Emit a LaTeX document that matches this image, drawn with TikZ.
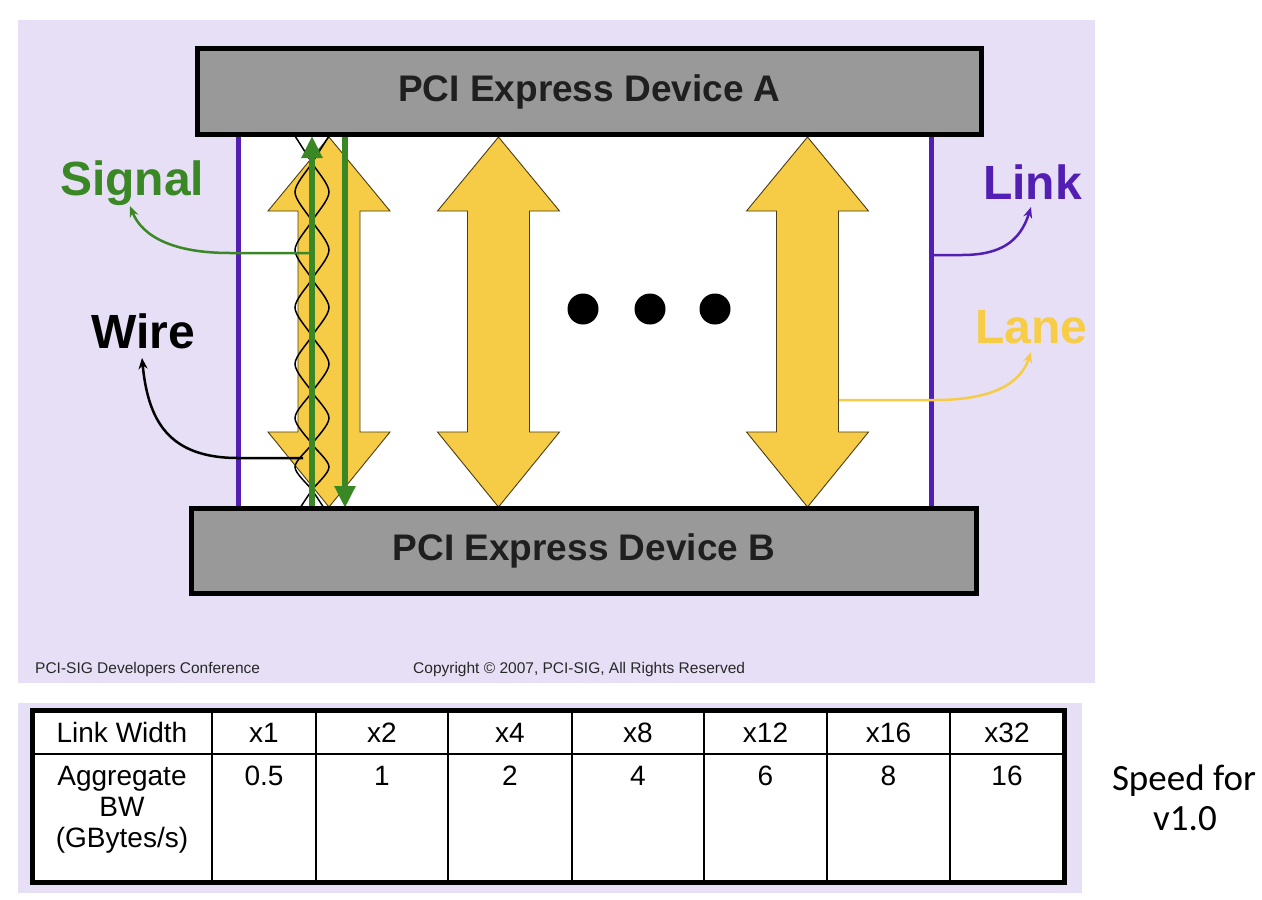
\documentclass[tikz,border=0pt]{standalone}
\usepackage{fontspec}
\setmainfont{Liberation Sans}
\newfontfamily\calib{Carlito}
\usetikzlibrary{arrows.meta}
\definecolor{lav}{RGB}{230,223,245}
\definecolor{devgray}{RGB}{153,153,153}
\definecolor{laneyel}{RGB}{246,204,70}
\definecolor{lanetxt}{RGB}{247,205,72}
\definecolor{sgreen}{RGB}{58,135,38}
\definecolor{lpurple}{RGB}{82,30,180}
\definecolor{footgray}{RGB}{40,40,40}
\tikzset{
  device/.style={draw=black, line width=5pt, fill=devgray, inner sep=0pt,
    font=\bfseries\fontsize{37}{40}\selectfont, text=black!88},
  biglabel/.style={inner sep=0pt, anchor=base west, font=\bfseries\fontsize{48}{52}\selectfont},
  lanearrow/.style={fill=laneyel, draw=black!70!laneyel, line width=0.9pt},
  linkline/.style={draw=lpurple, line width=5.5pt},
  wirecurve/.style={draw=black, line width=1.5pt},
  sigarrow/.style={draw=sgreen, line width=6pt, -{Triangle[length=22pt,width=20pt]}},
  callout/.style={line width=2.5pt, -{Stealth[length=11pt,width=9pt]}},
  foot/.style={inner sep=0pt, anchor=base west, text=footgray, font=\fontsize{15.5}{17}\selectfont},
  cell/.style={inner sep=0pt, anchor=base, font=\fontsize{28}{31}\selectfont},
  thinrule/.style={line width=1.5pt, draw=black},
  speed/.style={inner sep=0pt, anchor=base, font=\calib\fontsize{37}{42}\selectfont}
}
\begin{document}
\begin{tikzpicture}[x=1pt,y=-1pt]
\useasboundingbox (0,0) rectangle (1262,900);
\fill[white] (0,0) rectangle (1262,900);
% backgrounds
\fill[lav] (18,20) rectangle (1095,683);
\fill[lav] (18,703) rectangle (1082,893);
\fill[white] (238,135) rectangle (932,507);
% link lines
\draw[linkline] (238.5,135) -- (238.5,507);
\draw[linkline] (931.5,135) -- (931.5,507);
% lane arrows
\foreach \c/\n in {329/1,498.5/2,807.5/3}{
  \draw[lanearrow] (\c,137) -- (\c+61,211) -- (\c+31,211) -- (\c+31,432) -- (\c+61,432)
    -- (\c,507) -- (\c-61,432) -- (\c-31,432) -- (\c-31,211) -- (\c-61,211) -- cycle;
}
% dots
\foreach \x in {583,650,715}{\fill[black] (\x,309) circle (15.5pt);}
% twisted wire pair
\draw[wirecurve] plot[smooth] coordinates {(295,136) (312,163) (329,192) (312,221) (295,250) (312,279)
  (329,307.5) (312,336) (295,364) (312,392) (329,418) (312,444) (295,467) (312,490) (324,508)};
\draw[wirecurve] plot[smooth] coordinates {(329,136) (312,163) (295,192) (312,221) (329,250) (312,279)
  (295,307.5) (312,336) (329,364) (312,392) (295,418) (312,444) (329,467) (312,490) (300,508)};
% signal arrows
\coordinate (gu0) at (312,510);
\coordinate (gu1) at (312,136);
\coordinate (gd0) at (345,132);
\coordinate (gd1) at (345,508);
\draw[sigarrow] (gu0) -- (gu1);
\draw[sigarrow] (gd0) -- (gd1);
% devices
\node[device, minimum width=784pt, minimum height=86pt] (devA) at (589.5,91.5) {PCI Express Device A};
\node[device, minimum width=785pt, minimum height=85pt] (devB) at (584,551) {PCI Express Device B};
% labels
\node[biglabel, text=sgreen] (signal) at (60,195) {Signal};
\node[biglabel, text=black] (wire) at (91,348) {Wire};
\node[biglabel, text=lpurple] (link) at (983,199) {Link};
\node[biglabel, text=lanetxt] (lane) at (975,343) {Lane};
% callouts
\coordinate (sigS) at (311,253);
\coordinate (sigM) at (230,253);
\coordinate (sigT) at (130,206);
\draw[callout, draw=sgreen] (sigS) -- (sigM) .. controls (172,253) and (142,236) .. (sigT);
\coordinate (wirS) at (303,458);
\coordinate (wirM) at (238,458);
\coordinate (wirT) at (142,358);
\draw[callout, draw=black] (wirS) -- (wirM) .. controls (168,458) and (148,420) .. (wirT);
\coordinate (linS) at (934,255);
\coordinate (linM) at (962,255);
\coordinate (linT) at (1031,207);
\draw[callout, draw=lpurple] (linS) -- (linM) .. controls (1000,255) and (1020,242) .. (linT);
\coordinate (lanS) at (839,400);
\coordinate (lanM) at (935,400);
\coordinate (lanT) at (1031,352);
\draw[callout, draw=laneyel] (lanS) -- (lanM) .. controls (990,400) and (1020,385) .. (lanT);
% footer
\node[foot] (conf) at (35,673) {PCI-SIG Developers Conference};
\node[foot] (copy) at (413,673) {Copyright \textcopyright{} 2007, PCI-SIG, All Rights Reserved};
% table
\fill[white] (32,710) rectangle (1064,882);
\foreach \x in {212,316,448,572,704,827,950}{\draw[thinrule] (\x,710) -- (\x,882);}
\draw[thinrule] (32,754) -- (1064,754);
\draw[line width=5pt] (32,710) rectangle (1064,882);
\node[cell] (h0) at (122,742) {Link Width};
\node[cell] (h1) at (264,742) {x1};
\node[cell] (h2) at (382,742) {x2};
\node[cell] (h3) at (510,742) {x4};
\node[cell] (h4) at (638,742) {x8};
\node[cell] (h5) at (765.5,742) {x12};
\node[cell] (h6) at (888.5,742) {x16};
\node[cell] (h7) at (1007,742) {x32};
\node[cell] (d0a) at (122,785) {Aggregate};
\node[cell] (d0b) at (122,816) {BW};
\node[cell] (d0c) at (122,847) {(GBytes/s)};
\node[cell] (d1) at (264,785) {0.5};
\node[cell] (d2) at (382,785) {1};
\node[cell] (d3) at (510,785) {2};
\node[cell] (d4) at (638,785) {4};
\node[cell] (d5) at (765.5,785) {6};
\node[cell] (d6) at (888.5,785) {8};
\node[cell] (d7) at (1007,785) {16};
% side note
\node[speed] (sp1) at (1184,790) {Speed for};
\node[speed] (sp2) at (1185,830) {v1.0};
\end{tikzpicture}
\end{document}
